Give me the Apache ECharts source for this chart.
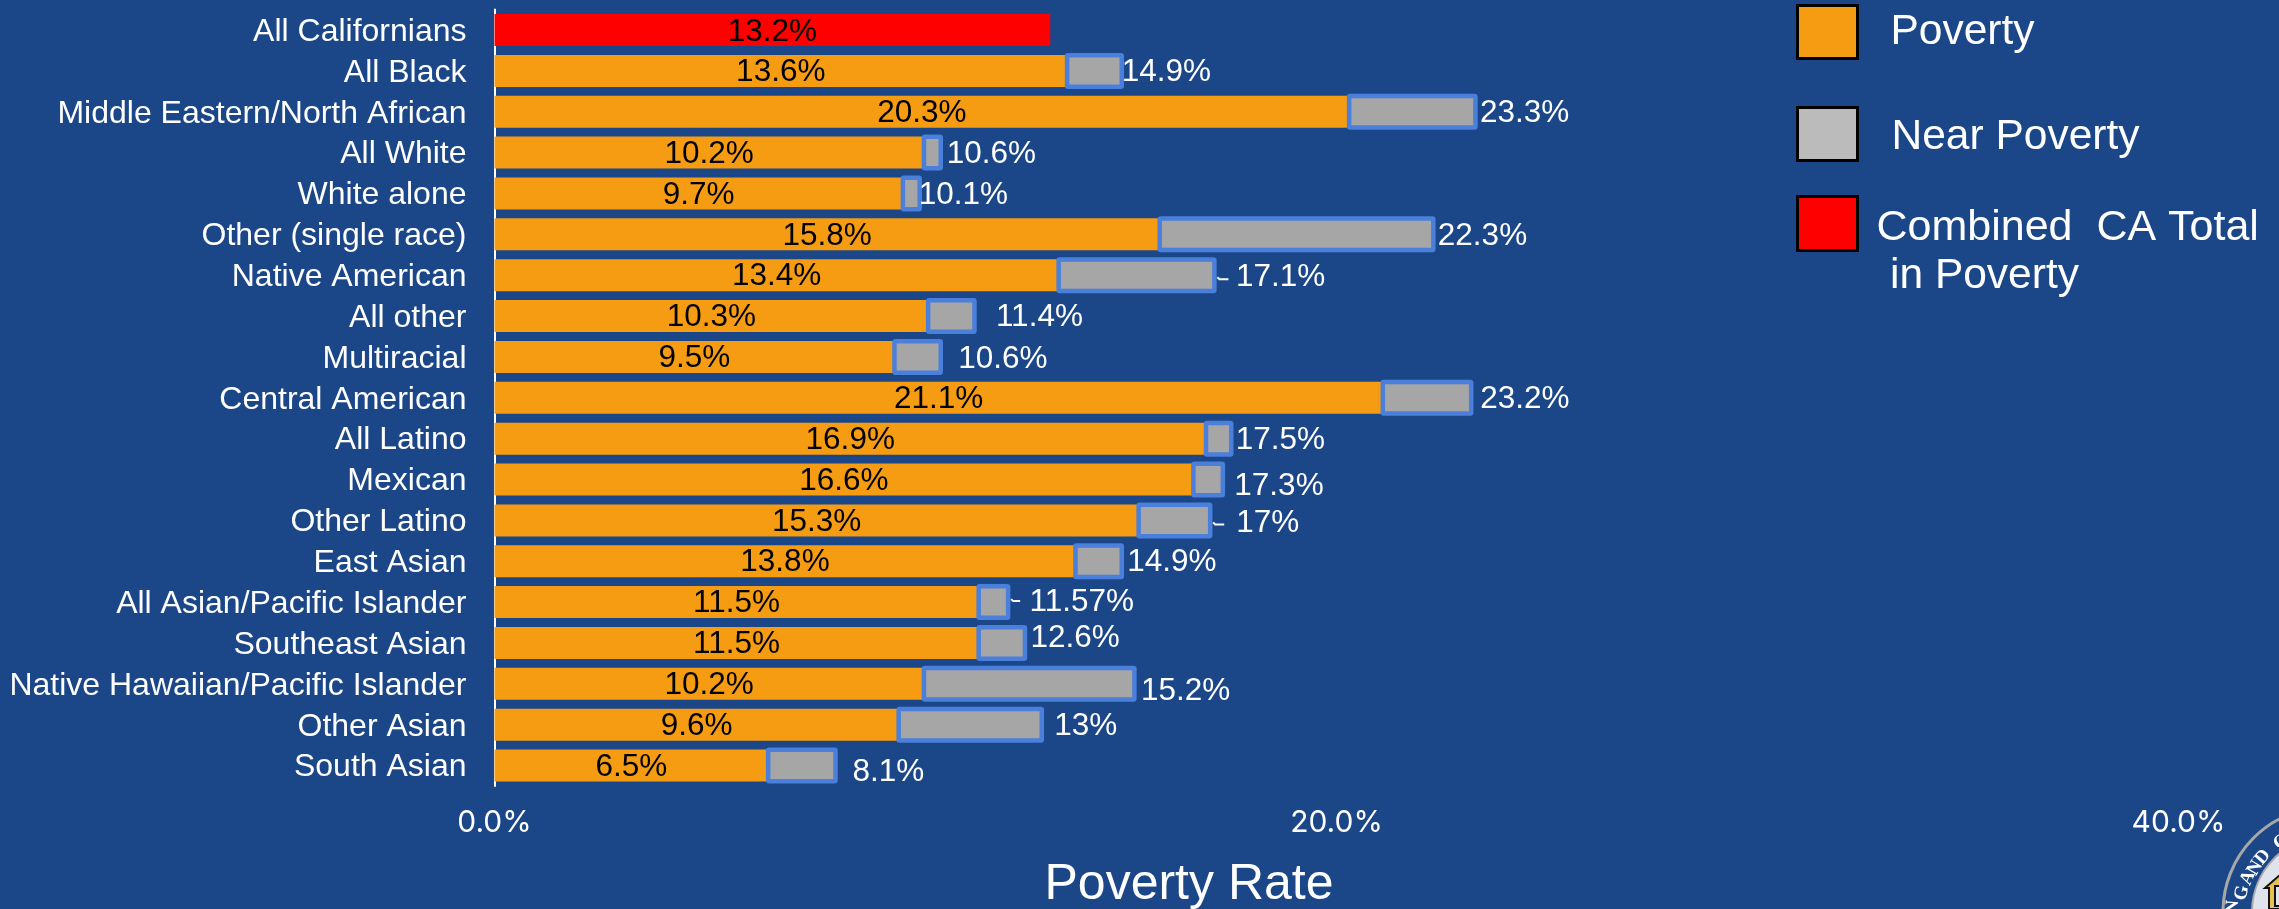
<!DOCTYPE html>
<html><head><meta charset="utf-8">
<script src="https://cdn.jsdelivr.net/npm/echarts@6/dist/echarts.min.js"></script>
<style>html,body{margin:0;padding:0;background:#1b4788}#c{width:2279px;height:909px}</style>
</head><body><div id="c"></div>
<script>
const categories = ["All Californians","All Black","Middle Eastern/North African","All White","White alone","Other (single race)","Native American","All other","Multiracial","Central American","All Latino","Mexican","Other Latino","East Asian","All Asian/Pacific Islander","Southeast Asian","Native Hawaiian/Pacific Islander","Other Asian","South Asian"];
const combinedTotal = [13.2];
const poverty = [null,13.6,20.3,10.2,9.7,15.8,13.4,10.3,9.5,21.1,16.9,16.6,15.3,13.8,11.5,11.5,10.2,9.6,6.5];
const nearPoverty = [null,1.3,3.0,0.4,0.4,6.5,3.7,1.1,1.1,2.1,0.6,0.7,1.7,1.1,0.7,1.1,5.0,3.4,1.6];
const totalLabels = ["","14.9%","23.3%","10.6%","10.1%","22.3%","17.1%","11.4%","10.6%","23.2%","17.5%","17.3%","17%","14.9%","11.57%","12.6%","15.2%","13%","8.1%"];
const xTicks = {min:0,max:40,interval:20};
const labelGapX = [0,0,4.5,6,-1,4.5,21.5,21.5,17.5,9,4.5,11.5,26,5.5,21.5,5.5,6.5,12.5,17];
const labelShiftY = [0,1.5,1.5,1.5,1.5,1.5,2.5,1.5,2.5,1.5,1.5,6.5,2.5,1.5,0.5,-4.5,7.5,1.5,6.5];
const leaderRows = [6,12,14];
const FONT='"Liberation Sans",Arial,sans-serif';
const chart = echarts.init(document.getElementById('c'),null,{renderer:'canvas'});
const ORANGE='#f69c12',GREY='#a6a6a6',BLUE='#4a7fdc',BG='#1b4788';
const BAR_H=31.5;

function renderNear(params,api){
  const i=api.value(0);
  const start=api.coord([api.value(1),i]);
  const end=api.coord([api.value(2),i]);
  const children=[{type:'rect',shape:{x:start[0],y:start[1]-BAR_H/2,width:end[0]-start[0],height:BAR_H,r:1},
    style:{fill:GREY,stroke:BLUE,lineWidth:4.5}}];
  if(leaderRows.includes(i)){
    const ly=end[1]+(i===14?-1:4);
    children.push({type:'polyline',shape:{points:[[end[0]+3,ly-2],[end[0]+5,ly],[end[0]+(i===14?12:14),ly]]},
      style:{stroke:'#fff',lineWidth:2,fill:null}});
  }
  children.push({type:'text',style:{x:end[0]+labelGapX[i],y:end[1]+labelShiftY[i],text:totalLabels[i],fill:'#fff',
    font:'31.5px '+FONT,align:'left',verticalAlign:'middle'}});
  return {type:'group',children:children};
}
const nearData=nearPoverty.map((v,i)=>v==null?null:[i,poverty[i],+(poverty[i]+v).toFixed(2)]).filter(Boolean);

function legendText(size,top,left){
  return {color:'#fff',fontFamily:FONT,fontSize:size,rich:{a:{color:'#fff',fontFamily:FONT,fontSize:size,padding:[top,0,0,left]}}};
}
const sealCx=2328,sealCy=912;
const sealLetters=[['N',2233,907],['G',2242,893],['A',2248,878],['N',2255,868],['D',2263,857],['C',2281,842]];
chart.setOption({
  animation:false,
  backgroundColor:BG,
  grid:{left:494.5,right:100.5,top:9.6,bottom:123},
  title:{text:'Poverty Rate',left:1189,top:860,textAlign:'center',textStyle:{color:'#fff',fontFamily:FONT,fontSize:50,fontWeight:'normal'},padding:0},
  legend:[
    {data:[{name:'Poverty',icon:'rect',itemStyle:{color:ORANGE,borderColor:'#000',borderWidth:3}}],left:1796,top:4,padding:0,itemWidth:60,itemHeight:53,selectedMode:false,formatter:'{a|{name}}',textStyle:legendText(42.5,0,28)},
    {data:[{name:'Near Poverty',icon:'rect',itemStyle:{color:'#bbbbbb',borderColor:'#000',borderWidth:3}}],left:1796,top:106,padding:0,itemWidth:60,itemHeight:53,selectedMode:false,formatter:'{a|{name}}',textStyle:legendText(42.5,6,29)},
    {data:[{name:'Combined  CA Total',icon:'rect',itemStyle:{color:'#ff0000',borderColor:'#000',borderWidth:3}}],left:1796,top:195,padding:0,itemWidth:60,itemHeight:54,selectedMode:false,formatter:'{a|{name}}',textStyle:legendText(43,10,14)}
  ],
  xAxis:{type:'value',min:xTicks.min,max:xTicks.max,interval:xTicks.interval,
    axisLine:{show:false},axisTick:{show:false},splitLine:{show:false},
    axisLabel:{color:'#fff',fontFamily:'Inter',fontSize:30,margin:22,formatter:v=>v.toFixed(1)+'%'}},
  yAxis:{type:'category',inverse:true,data:categories,
    axisLine:{show:true,lineStyle:{color:'#fff',width:2}},axisTick:{show:false},
    axisLabel:{color:'#fff',fontFamily:FONT,fontSize:32,margin:28,interval:0,formatter:'{a|{value}}',
      rich:{a:{color:'#fff',fontFamily:FONT,fontSize:32,padding:[4,0,0,0]}}}},
  series:[
    {name:'Combined  CA Total',type:'bar',stack:'t',barWidth:32,data:combinedTotal,
      itemStyle:{color:'#ff0000'},
      label:{show:true,position:'inside',color:'#000',fontFamily:FONT,fontSize:31.5,formatter:p=>p.value.toFixed(1)+'%',offset:[0,2.5]}},
    {name:'Poverty',type:'bar',stack:'t',barWidth:31,data:poverty,
      itemStyle:{color:ORANGE},
      label:{show:true,position:'inside',color:'#000',fontFamily:FONT,fontSize:31.5,formatter:p=>p.value==null?'':p.value.toFixed(1)+'%',offset:[0,1.5]}},
    {name:'Near Poverty',type:'custom',renderItem:renderNear,data:nearData,encode:{x:[1,2],y:0},clip:false,z:3}
  ],
  graphic:[
    {type:'text',left:1890,top:255,style:{text:'in Poverty',fill:'#fff',font:'42.5px '+FONT}},
    {type:'group',silent:true,children:[
      {type:'circle',shape:{cx:sealCx,cy:sealCy,r:105},style:{fill:BG,stroke:'#a8a8a8',lineWidth:3}},
      {type:'circle',shape:{cx:sealCx,cy:sealCy,r:76},style:{fill:'#dfe3ec',stroke:'#a8a8a8',lineWidth:2}},
      {type:'polygon',shape:{points:[[2281,874],[2265,888],[2269,888],[2269,909],[2281,909]]},style:{fill:'#e8c04f',stroke:'#111',lineWidth:2}},
      {type:'rect',shape:{x:2275,y:886,width:6,height:20},style:{fill:'#dfe3ec',stroke:'#111',lineWidth:2}}
    ].concat(sealLetters.map(([t,x,y])=>({type:'text',x:x,y:y,rotation:Math.atan2(sealCx-x,sealCy-y),
      style:{text:t,fill:'#fff',font:'bold 19px "Liberation Serif"',align:'center',verticalAlign:'middle'}})))}
  ]
});
</script></body></html>
